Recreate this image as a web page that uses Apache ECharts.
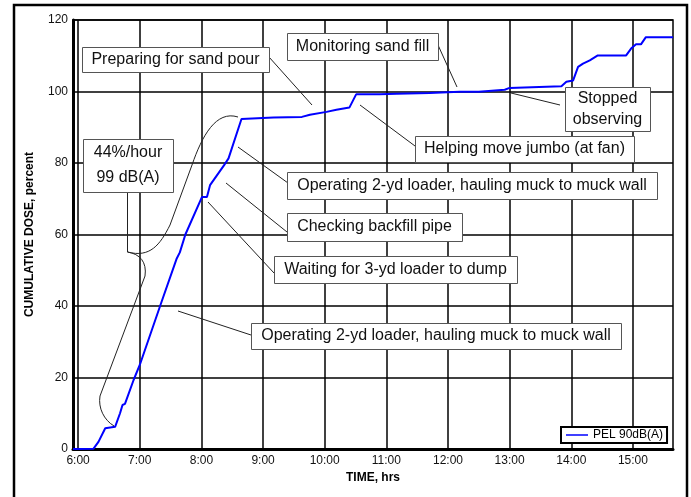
<!DOCTYPE html>
<html><head><meta charset="utf-8">
<script src="https://cdn.jsdelivr.net/npm/echarts@6/dist/echarts.min.js"></script>
<style>html,body{margin:0;padding:0;background:#fff}#c{width:691px;height:497px}</style>
</head><body><div id="c"></div>
<script>
// ---- data (time in decimal hours, cumulative dose in percent) ----
const times = [5.917, 6.0, 6.25, 6.276, 6.33, 6.44, 6.465, 6.6, 6.68, 6.72, 6.76, 6.9, 7.0, 7.33, 7.6, 7.65, 7.74,
  8.01, 8.09, 8.14, 8.38, 8.44, 8.65, 9.17, 9.63, 9.76, 10.03, 10.19, 10.40, 10.51, 10.89, 11.17, 11.70, 12.19,
  12.5, 12.92, 13.0, 13.84, 13.92, 14.03, 14.11, 14.19, 14.30, 14.43, 14.89, 14.97, 15.05, 15.13, 15.21, 15.65];
const dose = [0, 0, 0.1, 0.3, 2, 5.8, 6.2, 6.2, 10, 12.3, 12.6, 19.3, 23.5, 40, 53.3, 55, 60,
  70.5, 70.5, 73.8, 79.7, 81.3, 92.3, 92.7, 92.9, 93.5, 94.3, 94.9, 95.5, 99.2, 99.2, 99.4, 99.6, 99.9,
  99.9, 100.5, 101, 101.5, 102.7, 103.1, 106.9, 107.8, 108.7, 110.1, 110.1, 112, 113.2, 113.2, 115.2, 115.2];
const hourTicks = [6, 7, 8, 9, 10, 11, 12, 13, 14, 15];
const seriesName = 'PEL 90dB(A)';
const xTitle = 'TIME, hrs';
const yTitle = 'CUMULATIVE DOSE, percent';

const FONT = '"Liberation Sans", Arial, Helvetica, sans-serif';
const chart = echarts.init(document.getElementById('c'), null, {renderer: 'canvas'});

function box(x, y, w, h, text, lh) {
  return [
    {type: 'rect', z: 20, shape: {x: x + 0.5, y: y + 0.5, width: w, height: h},
     style: {fill: '#fff', stroke: '#555', lineWidth: 1}},
    {type: 'text', z: 21, x: x + w / 2, y: y + h / 2,
     style: {text: text, fill: '#111', fontSize: 16, fontFamily: FONT,
       align: 'center', verticalAlign: 'middle', textAlign: 'center', textVerticalAlign: 'middle',
       lineHeight: lh || 18}}
  ];
}
const thin = {stroke: '#222', lineWidth: 1, fill: null};
function leader(x1, y1, x2, y2) {
  return {type: 'line', z: 19, shape: {x1, y1, x2, y2}, style: thin};
}
function bez(x1, y1, cpx1, cpy1, cpx2, cpy2, x2, y2) {
  return {type: 'bezierCurve', z: 19, shape: {x1, y1, cpx1, cpy1, cpx2, cpy2, x2, y2}, style: thin};
}

const graphics = [].concat(
  [{type: 'rect', z: 30, silent: true, shape: {x: 14, y: 5, width: 673, height: 500},
    style: {fill: null, stroke: '#000', lineWidth: 2.5}}],
  box(82, 47, 187, 25, 'Preparing for sand pour'), [leader(269, 57, 312, 105)],
  box(287, 33, 151, 27, 'Monitoring sand fill'), [leader(438, 45, 457, 87)],
  box(565, 87, 85, 44, 'Stopped\nobserving', 21), [leader(511, 93, 560, 105)],
  box(415, 136, 219, 26, 'Helping move jumbo (at fan)'), [leader(415, 146, 360, 105)],
  box(287, 172, 370, 27, 'Operating 2-yd loader, hauling muck to muck wall'), [leader(288, 183, 238, 147)],
  box(287, 213, 175, 28, 'Checking backfill pipe'), [leader(287, 232, 226, 183)],
  box(274, 256, 243, 27, 'Waiting for 3-yd loader to dump'), [leader(274, 273, 208, 202)],
  box(251, 323, 370, 26, 'Operating 2-yd loader, hauling muck to muck wall'), [leader(251, 335, 178, 311)],
  box(83, 139, 90, 53, '44%/hour\n99 dB(A)', 25), [leader(127.5, 193, 127.5, 252)],
  [
    bez(114, 426, 104, 420, 98, 408, 100, 396),
    leader(100, 396, 145, 276),
    bez(145, 276, 147, 262, 140, 254, 127.5, 252),
    bez(127.5, 252, 150, 258, 160, 245, 170, 225),
    leader(170, 225, 192, 165),
    bez(192, 165, 202, 136, 216, 110, 238, 117)
  ]
);

chart.setOption({
  animation: false,
  backgroundColor: '#fff',
  textStyle: {fontFamily: FONT},
  grid: {left: 73, right: 18, top: 20, bottom: 48, show: true, borderColor: '#000', borderWidth: 1.5,
    backgroundColor: 'transparent'},
  legend: {
    data: [seriesName], left: 561, top: 427, orient: 'horizontal',
    backgroundColor: '#fff', borderColor: '#000', borderWidth: 2, borderRadius: 0,
    padding: [1, 4, 1, 5], icon: 'rect', itemWidth: 22, itemHeight: 1.5, itemGap: 5,
    textStyle: {fontSize: 12, color: '#000', fontFamily: FONT, lineHeight: 14}, z: 25
  },
  xAxis: {
    type: 'value', min: 5.917, max: 15.65,
    name: xTitle, nameLocation: 'middle', nameGap: 15,
    nameTextStyle: {fontSize: 12, fontWeight: 'bold', color: '#000', fontFamily: FONT},
    axisLine: {show: true, onZero: false, lineStyle: {color: '#000', width: 3}},
    axisTick: {show: false, customValues: hourTicks},
    axisLabel: {customValues: hourTicks, formatter: v => Math.round(v) + ':00',
      fontSize: 12, color: '#111', margin: 6, fontFamily: FONT},
    splitLine: {show: true, lineStyle: {color: '#000', width: 1.5}}
  },
  yAxis: {
    type: 'value', min: 0, max: 120, interval: 20,
    name: yTitle, nameLocation: 'middle', nameGap: 37, nameRotate: 90,
    nameTextStyle: {fontSize: 12, fontWeight: 'bold', color: '#000', fontFamily: FONT},
    axisLine: {show: true, onZero: false, lineStyle: {color: '#000', width: 3}},
    axisTick: {show: false},
    axisLabel: {fontSize: 12, color: '#111', margin: 5, fontFamily: FONT},
    splitLine: {show: true, lineStyle: {color: '#000', width: 1.5}}
  },
  series: [{
    name: seriesName, type: 'line', data: times.map((t, i) => [t, dose[i]]),
    symbol: 'none', smooth: false, clip: false, z: 5,
    lineStyle: {color: '#0000ff', width: 2}, itemStyle: {color: '#0000ff'}
  }],
  graphic: {elements: graphics}
});
</script>
</body></html>
